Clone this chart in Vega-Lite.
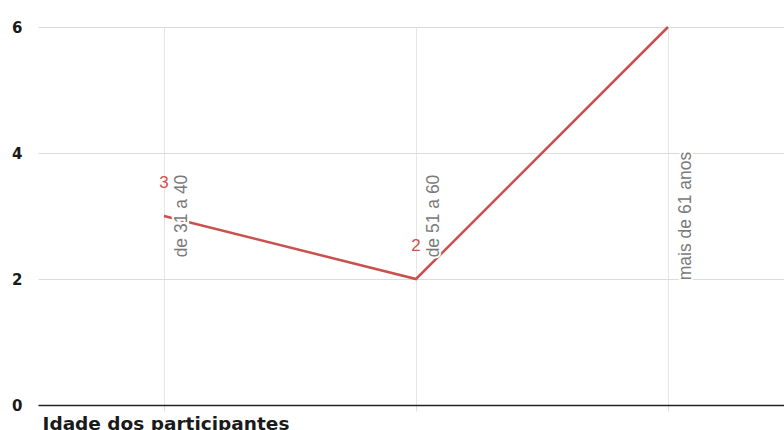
{
  "$schema": "https://vega.github.io/schema/vega-lite/v6.json",
  "width": 756,
  "height": 378,
  "autosize": "none",
  "padding": {"left": 38, "top": 27, "right": -10, "bottom": 25},
  "background": "white",
  "config": {
    "view": {"stroke": null},
    "font": "DejaVu Sans"
  },
  "data": {
    "values": [
      {"faixa": "de 31 a 40", "n": 3},
      {"faixa": "de 51 a 60", "n": 2},
      {"faixa": "mais de 61 anos", "n": 6}
    ]
  },
  "encoding": {
    "x": {
      "field": "faixa",
      "type": "nominal",
      "sort": null,
      "scale": {"type": "point", "padding": 0.5},
      "axis": {
        "labels": false,
        "grid": true,
        "gridColor": "#e6e6e6",
        "domain": true,
        "domainColor": "#222222",
        "domainWidth": 1.5,
        "ticks": true,
        "tickColor": "#e0e0e0",
        "tickSize": 6,
        "title": "Idade dos participantes",
        "titleX": 4,
        "titleY": 9,
        "titleAlign": "left",
        "titleAnchor": "start",
        "titleBaseline": "top",
        "titleFont": "DejaVu Sans",
        "titleFontSize": 18.5,
        "titleFontWeight": "bold",
        "titleColor": "#1a1a1a"
      }
    }
  },
  "layer": [
    {
      "mark": {"type": "line", "color": "#c8504f", "strokeWidth": 2.5},
      "encoding": {
        "y": {
          "field": "n",
          "type": "quantitative",
          "scale": {"domain": [0, 6], "nice": false, "zero": true},
          "axis": {
            "values": [0, 2, 4, 6],
            "format": "d",
            "title": null,
            "domain": false,
            "ticks": false,
            "grid": true,
            "gridColor": "#dcdcdc",
            "gridWidth": 1.2,
            "labelPadding": 16,
            "labelFont": "DejaVu Sans",
            "labelFontSize": 15,
            "labelFontWeight": 600,
            "labelColor": "#1a1a1a"
          }
        }
      }
    },
    {
      "mark": {
        "type": "text",
        "angle": 270,
        "align": "center",
        "baseline": "middle",
        "dy": 18,
        "font": "Liberation Sans",
        "fontSize": 17.5,
        "color": "white",
        "stroke": "white",
        "strokeWidth": 4
      },
      "encoding": {
        "y": {"datum": 3, "type": "quantitative"},
        "text": {"field": "faixa"}
      }
    },
    {
      "mark": {
        "type": "text",
        "angle": 270,
        "align": "center",
        "baseline": "middle",
        "dy": 18,
        "font": "Liberation Sans",
        "fontSize": 17.5,
        "color": "#7a7a7a"
      },
      "encoding": {
        "y": {"datum": 3, "type": "quantitative"},
        "text": {"field": "faixa"}
      }
    },
    {
      "transform": [{"filter": "datum.n < 6"}],
      "mark": {
        "type": "text",
        "align": "center",
        "baseline": "middle",
        "dy": -33,
        "font": "Liberation Sans",
        "fontSize": 17,
        "color": "#d2504e"
      },
      "encoding": {
        "y": {"field": "n", "type": "quantitative"},
        "text": {"field": "n", "type": "quantitative"}
      }
    }
  ]
}
